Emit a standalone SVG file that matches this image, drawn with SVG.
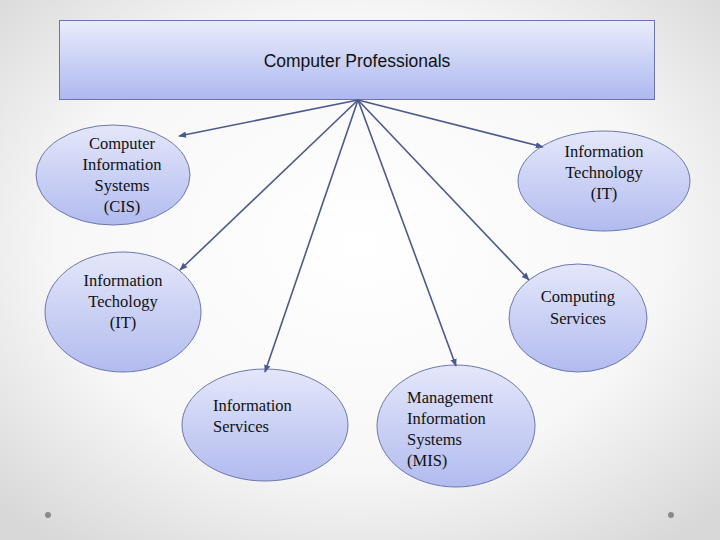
<svg xmlns="http://www.w3.org/2000/svg" width="720" height="540" viewBox="0 0 720 540">
<defs>
<radialGradient id="bg" cx="50%" cy="45%" r="70%">
<stop offset="0" stop-color="#ffffff"/>
<stop offset="0.6" stop-color="#f7f7f7"/>
<stop offset="1" stop-color="#d8d8d8"/>
</radialGradient>
<linearGradient id="rectFill" x1="0" y1="0" x2="0" y2="1">
<stop offset="0" stop-color="#e9ecfb"/>
<stop offset="1" stop-color="#aeb8f0"/>
</linearGradient>
<linearGradient id="ellFill" x1="0" y1="0" x2="0" y2="1">
<stop offset="0" stop-color="#e4e7fa"/>
<stop offset="1" stop-color="#b2bbef"/>
</linearGradient>
<marker id="arr" viewBox="0 0 10 10" refX="9" refY="5" markerWidth="5" markerHeight="5" orient="auto" markerUnits="strokeWidth">
<path d="M0,1 L10,5 L0,9 z" fill="#4c5a8a"/>
</marker>
</defs>
<style>
.ell{fill:url(#ellFill);stroke:#6d78aa;stroke-width:1}
.t{font-family:"Liberation Serif","Times New Roman",serif;font-size:16.5px;fill:#111}
.c{text-anchor:middle}
.conn line{stroke:#4c5a8a;stroke-width:1.6;marker-end:url(#arr)}
</style>
<rect x="0" y="0" width="720" height="540" fill="url(#bg)"/>
<circle cx="48" cy="515" r="3" fill="#8a8a8a"/>
<circle cx="671" cy="515" r="3" fill="#8a8a8a"/>

<g id="top">
<rect x="59.5" y="20.5" width="595" height="79" fill="url(#rectFill)" stroke="#6a75a8" stroke-width="1"/>
<text x="357" y="67" font-family="'Liberation Sans',Arial,sans-serif" font-size="17.5" fill="#111" text-anchor="middle">Computer Professionals</text>
</g>

<g id="cis">
<ellipse class="ell" cx="113" cy="175" rx="77" ry="50"/>
<text class="t c" x="122" y="149">Computer</text>
<text class="t c" x="122" y="170">Information</text>
<text class="t c" x="122" y="191">Systems</text>
<text class="t c" x="122" y="212">(CIS)</text>
</g>

<g id="it-right">
<ellipse class="ell" cx="604" cy="181" rx="86" ry="50"/>
<text class="t c" x="604" y="157">Information</text>
<text class="t c" x="604" y="178">Technology</text>
<text class="t c" x="604" y="199">(IT)</text>
</g>

<g id="it-left">
<ellipse class="ell" cx="123" cy="312" rx="78" ry="60"/>
<text class="t c" x="123" y="286">Information</text>
<text class="t c" x="123" y="307">Techology</text>
<text class="t c" x="123" y="328">(IT)</text>
</g>

<g id="computing">
<ellipse class="ell" cx="578" cy="318" rx="69" ry="54"/>
<text class="t c" x="578" y="302">Computing</text>
<text class="t c" x="578" y="324">Services</text>
</g>

<g id="infoserv">
<ellipse class="ell" cx="265" cy="425" rx="83" ry="56"/>
<text class="t" x="213" y="411">Information</text>
<text class="t" x="213" y="432">Services</text>
</g>

<g id="mis">
<ellipse class="ell" cx="456" cy="426" rx="79" ry="61"/>
<text class="t" x="407" y="403">Management</text>
<text class="t" x="407" y="424">Information</text>
<text class="t" x="407" y="445">Systems</text>
<text class="t" x="407" y="466">(MIS)</text>
</g>

<g class="conn" id="connectors">
<line x1="358" y1="100" x2="179" y2="136"/>
<line x1="358" y1="100" x2="543" y2="147"/>
<line x1="358" y1="100" x2="180" y2="270"/>
<line x1="358" y1="100" x2="529" y2="280"/>
<line x1="358" y1="100" x2="265" y2="372"/>
<line x1="358" y1="100" x2="456" y2="366"/>
</g>
</svg>
